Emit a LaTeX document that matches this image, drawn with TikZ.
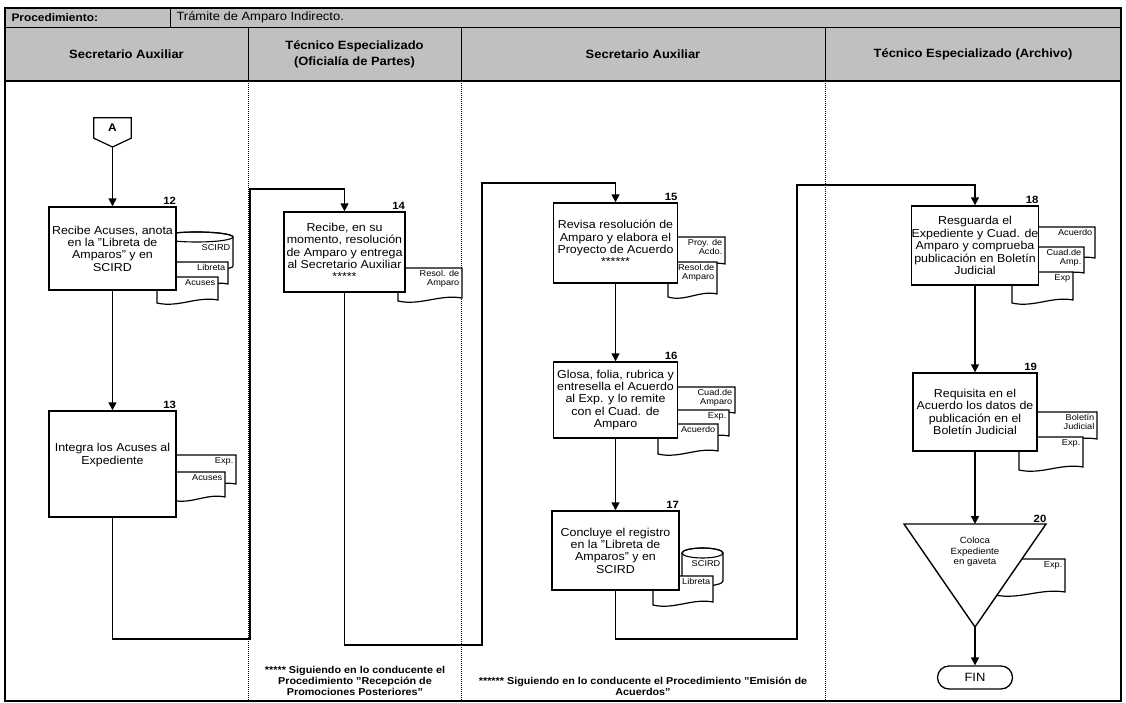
\documentclass[tikz,border=0pt]{standalone}
\usepackage{fontspec}
\setmainfont{Liberation Sans}[FakeStretch=1.08]
\usetikzlibrary{arrows.meta,calc}
\definecolor{hdrgray}{RGB}{192,192,192}

\newcommand\boxfont{\fontsize{11.5}{12.4}\selectfont}

% document symbol: name, x1, y1 (top), x2, y2 (bottom at right side), text
\newcommand\docpage[6]{%
  \path[docline] (#2,#3) -- (#4,#3) -- (#4,#5)
    .. controls ({#4-0.35*(#4-#2)},{#5-4}) and ({#2+0.35*(#4-#2)},{#5+8}) .. (#2,{#5+3}) -- cycle;
  \node[doctext] (#1) at ({#4-1.5},{#3+1}) {#6};
}
% stored data (cylinder): name, x1, y1 (top), x2, y2 (bottom of side), text
\newcommand\dbstore[6]{%
  \pgfmathsetmacro\cylcx{(#2+#4)/2}\pgfmathsetmacro\cylrx{(#4-#2)/2}%
  \path[docline] (#2,{#3+5}) -- (#2,#5)
    .. controls (#2,{#5+2.76}) and ({\cylcx-0.5523*\cylrx},{#5+5}) .. (\cylcx,{#5+5})
    .. controls ({\cylcx+0.5523*\cylrx},{#5+5}) and (#4,{#5+2.76}) .. (#4,#5)
    -- (#4,{#3+5})
    .. controls (#4,{#3+2.24}) and ({\cylcx+0.5523*\cylrx},#3) .. (\cylcx,#3)
    .. controls ({\cylcx-0.5523*\cylrx},#3) and (#2,{#3+2.24}) .. (#2,{#3+5}) -- cycle;
  \draw[line width=1.1pt] (\cylcx,{#3+5}) ellipse [x radius=\cylrx, y radius=5];
  \node[doctext] (#1) at ({#4-1.5},{#3+11}) {#6};
}

\tikzset{
  stepbox/.style={draw, line width=1.4pt, fill=white, align=center, inner sep=0pt, font=\boxfont},
  flow/.style={line width=1.5pt, -{Triangle[width=8pt,length=8pt]}},
  docline/.style={draw, line width=1.2pt, fill=white},
  doctext/.style={font=\fontsize{8.5}{9.5}\selectfont, align=right, inner sep=1pt, anchor=north east},
  numlab/.style={font=\bfseries\fontsize{10.5}{10.5}\selectfont, anchor=south east, inner sep=0.5pt, yshift=1pt},
  hdr/.style={font=\bfseries\fontsize{12}{16}\selectfont, align=center},
  lane/.style={line width=1pt, dash pattern=on 1pt off 1pt},
  note/.style={font=\bfseries\fontsize{10}{10.8}\selectfont, align=center},
}

\begin{document}
\begin{tikzpicture}[x=1pt,y=-1pt]
\useasboundingbox (0,0) rectangle (1126,703);

% header band and swimlane frame
\fill[hdrgray] (5,8) rectangle (1121,81);
\draw[line width=0.9pt] (5,27) -- (1121,27);
\draw[line width=0.9pt] (170,8) -- (170,27);
\foreach \lx in {248,461,825} \draw[line width=0.9pt] (\lx,27) -- (\lx,81);
\foreach \lx in {248,461,825} \draw[lane] (\lx,81) -- (\lx,701);
\draw[line width=2.4pt] (5,81) -- (1121,81);
\draw[line width=1.2pt] (5,8) rectangle (1121,701);

\node[anchor=west, font=\bfseries\fontsize{11}{12}\selectfont] (proc) at (8,17.5) {Procedimiento:};
\node[anchor=west, font=\fontsize{12}{13}\selectfont] (procname) at (173,17.5) {Trámite de Amparo Indirecto.};

\node[hdr] (h1) at (126.5,54) {Secretario Auxiliar};
\node[hdr] (h2) at (354.5,54) {Técnico Especializado\\(Oficialía de Partes)};
\node[hdr] (h3) at (643,54) {Secretario Auxiliar};
\node[hdr] (h4) at (973,54) {Técnico Especializado (Archivo)};

% off-page connector A
\coordinate (Atip) at (112.5,147);
\node[minimum width=37, minimum height=20, inner sep=0pt] (A) at (112.5,128) {};
\draw[line width=1.2pt, fill=white] (A.north west) -- (A.north east) -- (A.south east) -- (Atip) -- (A.south west) -- cycle;
\node[font=\bfseries\fontsize{11}{12}\selectfont, inner sep=0pt] (Alab) at (A) {A};

% documents and stores (drawn behind the steps)
\dbstore{s12a}{160}{232}{233}{266}{SCIRD}
\docpage{s12b}{168}{262}{228}{284}{Libreta}
\docpage{s12c}{157}{277}{218}{300}{Acuses}

\docpage{s13a}{172}{455}{236}{484}{Exp.}
\docpage{s13b}{172}{472}{225}{497}{Acuses}

\docpage{s14a}{398}{268}{462}{298}{Resol. de\\Amparo}

\docpage{s15a}{672}{237}{725}{264}{Proy. de\\Acdo.}
\docpage{s15b}{668}{262}{717}{294}{Resol.de\\Amparo}

\docpage{s16a}{672}{387}{735}{413}{Cuad.de\\Amparo}
\docpage{s16b}{670}{410}{729}{436}{Exp.}
\docpage{s16c}{658}{424}{718}{451}{Acuerdo}

\dbstore{s17a}{682}{548}{723}{581}{SCIRD}
\docpage{s17b}{653}{576}{713}{602}{Libreta}

\docpage{s18a}{1030}{227}{1095}{258}{Acuerdo}
\docpage{s18b}{1030}{247}{1084}{273}{Cuad.de\\Amp.}
\docpage{s18c}{1012}{272}{1073}{300}{Exp}

\docpage{s19a}{1030}{412}{1097}{439}{Boletín\\Judicial}
\docpage{s19b}{1019}{437}{1083}{467}{Exp.}

\docpage{s20a}{995}{559}{1065}{592}{Exp.}

% process steps
\node[stepbox, minimum width=127, minimum height=83] (b12) at (112.5,248.5)
  {Recibe Acuses, anota\\en la "Libreta de\\Amparos" y en\\SCIRD};
\node[stepbox, minimum width=127, minimum height=106, text depth=20pt] (b13) at (112.5,464)
  {Integra los Acuses al\\Expediente};
\node[stepbox, minimum width=121, minimum height=80] (b14) at (344.5,252)
  {Recibe, en su\\momento, resolución\\de Amparo y entrega\\al Secretario Auxiliar\\*****};
\node[stepbox, minimum width=124, minimum height=80] (b15) at (615.5,243)
  {Revisa resolución de\\Amparo y elabora el\\Proyecto de Acuerdo\\******};
\node[stepbox, minimum width=124, minimum height=76] (b16) at (615.5,400)
  {Glosa, folia, rubrica y\\entresella el Acuerdo\\al Exp. y lo remite\\con el Cuad. de\\Amparo};
\node[stepbox, minimum width=127, minimum height=79] (b17) at (615.5,550.5)
  {Concluye el registro\\en la "Libreta de\\Amparos" y en\\SCIRD};
\node[stepbox, minimum width=126, minimum height=79] (b18) at (975,245.5)
  {Resguarda el\\Expediente y Cuad. de\\Amparo y comprueba\\publicación en Boletín\\Judicial};
\node[stepbox, minimum width=124, minimum height=78] (b19) at (975,412)
  {Requisita en el\\Acuerdo los datos de\\publicación en el\\Boletín Judicial};

% archive step (inverted triangle)
\coordinate (t20top) at (975,524);
\coordinate (t20tip) at (975,627);
\draw[line width=1.4pt, fill=white] (904,524) -- (1046,524) -- (t20tip) -- cycle;
\node[align=center, font=\fontsize{9}{10.5}\selectfont] (t20) at (975,552) {Coloca\\Expediente\\en gaveta};

\node[draw, line width=1.3pt, rounded corners=11.5pt, minimum width=75, minimum height=23,
      font=\fontsize{12}{14}\selectfont] (fin) at (975,677.5) {FIN};

% step numbers
\node[numlab] (n12) at (b12.north east) {12};
\node[numlab] (n13) at (b13.north east) {13};
\node[numlab] (n14) at (b14.north east) {14};
\node[numlab] (n15) at (b15.north east) {15};
\node[numlab] (n16) at (b16.north east) {16};
\node[numlab] (n17) at (b17.north east) {17};
\node[numlab] (n18) at (b18.north east) {18};
\node[numlab] (n19) at (b19.north east) {19};
\node[numlab] (n20) at (1047,524) {20};

% flow
\draw[flow] (Atip) -- (b12.north);
\draw[flow] (b12.south) -- (b13.north);
\draw[flow] (b13.south) |- (250,639) -- (250,189) -| (b14.north);
\draw[flow] (b14.south) |- (482,645) -- (482,183) -| (b15.north);
\draw[flow] (b15.south) -- (b16.north);
\draw[flow] (b16.south) -- (b17.north);
\draw[flow] (b17.south) |- (797,639) -- (797,185) -| (b18.north);
\draw[flow] (b18.south) -- (b19.north);
\draw[flow] (b19.south) -- (t20top);
\draw[flow] (t20tip) -- (fin.north);

% footnotes
\node[note] (fn1) at (355,681) {***** Siguiendo en lo conducente el\\Procedimiento "Recepción de\\Promociones Posteriores"};
\node[note] (fn2) at (643,686.5) {****** Siguiendo en lo conducente el Procedimiento "Emisión de\\Acuerdos"};
\end{tikzpicture}
\end{document}
